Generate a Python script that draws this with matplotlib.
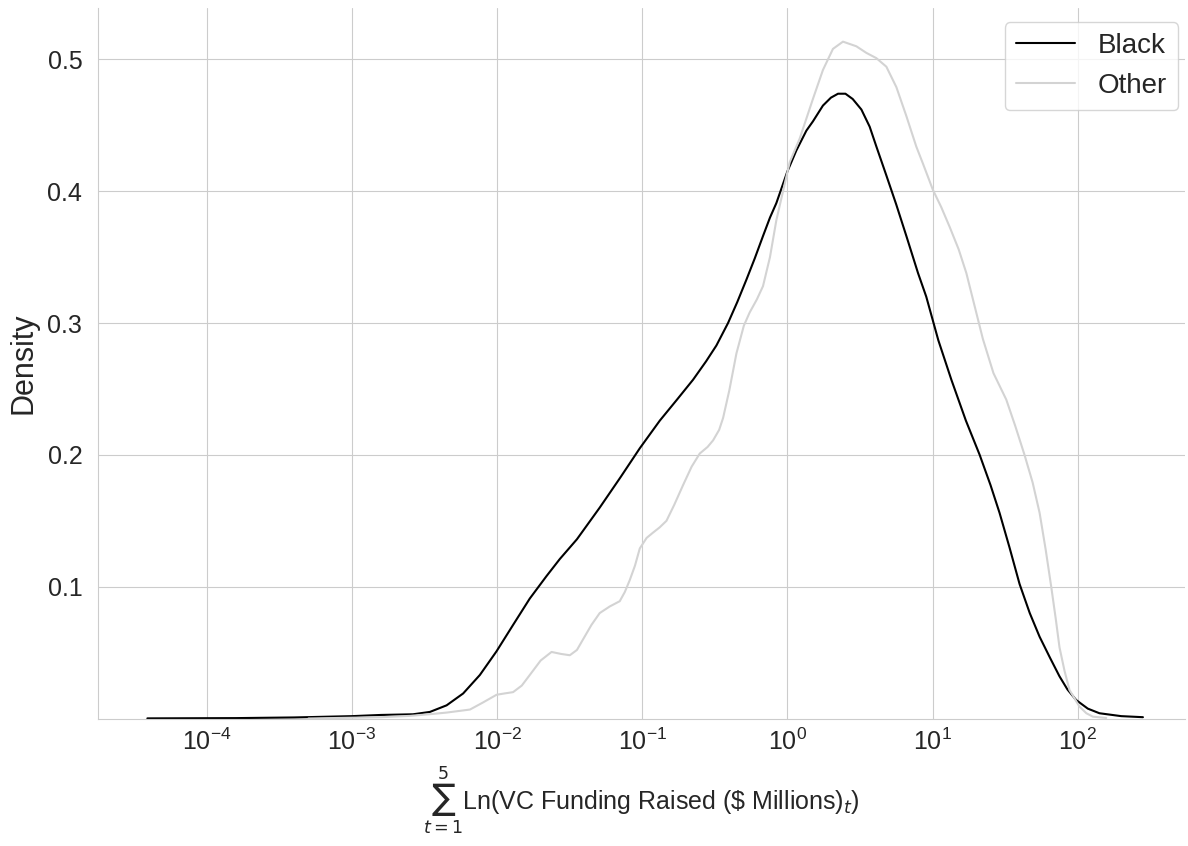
import numpy as np
import matplotlib
matplotlib.use('Agg')
import matplotlib.pyplot as plt
import seaborn as sns

# Densidades estimadas (KDE) do financiamento VC acumulado, eixo x em log10.

black_exp = [-4.41, -3.8, -3.4, -3.0, -2.80, -2.58, -2.463, -2.348, -2.234,
             -2.119, -2.004, -1.89, -1.775, -1.66, -1.568, -1.45, -1.293,
             -1.15, -1.017, -0.879, -0.760, -0.650, -0.560, -0.489, -0.409,
             -0.345, -0.282, -0.225, -0.168, -0.12, -0.076, 0.0, 0.062, 0.131,
             0.176, 0.245, 0.30, 0.349, 0.40, 0.450, 0.510, 0.567, 0.613,
             0.682, 0.750, 0.820, 0.90, 0.957, 1.04, 1.13, 1.23, 1.325, 1.40,
             1.462, 1.53, 1.60, 1.67, 1.738, 1.81, 1.875, 1.93, 1.99, 2.07,
             2.15, 2.3, 2.45]
black_density = [0.0001, 0.0003, 0.0008, 0.0018, 0.0027, 0.0032, 0.005, 0.010,
                 0.019, 0.033, 0.051, 0.071, 0.091, 0.108, 0.121, 0.136,
                 0.160, 0.183, 0.205, 0.226, 0.242, 0.257, 0.271, 0.283,
                 0.300, 0.316, 0.333, 0.349, 0.366, 0.380, 0.391, 0.415,
                 0.431, 0.446, 0.453, 0.465, 0.471, 0.474, 0.474, 0.470,
                 0.462, 0.449, 0.434, 0.412, 0.390, 0.366, 0.338, 0.320,
                 0.287, 0.257, 0.226, 0.200, 0.177, 0.156, 0.130, 0.102,
                 0.080, 0.062, 0.046, 0.032, 0.022, 0.014, 0.0075, 0.004,
                 0.0018, 0.001]

other_exp = [-3.3, -2.8, -2.6, -2.44, -2.348, -2.187, -2.10, -2.004, -1.95,
             -1.89, -1.83, -1.775, -1.70, -1.625, -1.56, -1.499, -1.45, -1.408,
             -1.35, -1.293, -1.224, -1.155, -1.12, -1.086, -1.05, -1.017,
             -0.97, -0.926, -0.88, -0.833, -0.78, -0.719, -0.66, -0.604,
             -0.55, -0.512, -0.47, -0.443, -0.40, -0.351, -0.30, -0.26, -0.21,
             -0.168, -0.12, -0.076, -0.03, 0.016, 0.085, 0.176, 0.245, 0.314,
             0.383, 0.475, 0.544, 0.613, 0.682, 0.751, 0.820, 0.888, 0.934,
             1.003, 1.06, 1.118, 1.18, 1.233, 1.29, 1.347, 1.42, 1.508, 1.57,
             1.634, 1.69, 1.738, 1.78, 1.818, 1.85, 1.875, 1.91, 1.944, 2.013,
             2.06, 2.105, 2.197]
other_density = [0.0, 0.001, 0.002, 0.0035, 0.0045, 0.0068, 0.012, 0.018,
                 0.019, 0.020, 0.025, 0.033, 0.044, 0.0505, 0.049, 0.048,
                 0.052, 0.060, 0.071, 0.080, 0.085, 0.089, 0.096, 0.105,
                 0.116, 0.129, 0.137, 0.141, 0.145, 0.150, 0.162, 0.177,
                 0.191, 0.201, 0.206, 0.211, 0.219, 0.228, 0.249, 0.277,
                 0.298, 0.308, 0.318, 0.328, 0.350, 0.378, 0.400, 0.422,
                 0.440, 0.470, 0.492, 0.508, 0.5135, 0.510, 0.505, 0.501,
                 0.4945, 0.479, 0.457, 0.434, 0.421, 0.401, 0.388, 0.373,
                 0.356, 0.338, 0.313, 0.288, 0.262, 0.242, 0.222, 0.200,
                 0.179, 0.156, 0.128, 0.100, 0.075, 0.054, 0.036, 0.0216,
                 0.009, 0.004, 0.0014, 0.0004]

y_ticks = [0.1, 0.2, 0.3, 0.4, 0.5]

# Estilo.

sns.set_style('whitegrid')
plt.rcParams['font.family'] = ['Liberation Sans', 'DejaVu Sans']
plt.rcParams['mathtext.fontset'] = 'dejavusans'

fig = plt.figure(figsize=(11.88, 8.46), dpi=100)
ax = fig.add_axes([0.0825, 0.1507, 0.915, 0.8398])

ax.plot(10 ** np.array(black_exp), black_density, color='black',
        linewidth=1.5, label='Black')
ax.plot(10 ** np.array(other_exp), other_density, color='lightgray',
        linewidth=1.5, label='Other')

ax.set_xscale('log')
ax.set_xlim(10 ** -4.75, 10 ** 2.74)
ax.set_ylim(0, 0.539)
ax.set_yticks(y_ticks)
ax.set_yticklabels([str(v) for v in y_ticks])

ax.tick_params(labelsize=18)
ax.tick_params(axis='y', pad=7.8)
ax.set_ylabel('Density', fontsize=22)
ax.yaxis.set_label_coords(-0.055, 0.5)
ax.set_xlabel(r'$\sum_{t=1}^{5}$Ln(VC Funding Raised (\$ Millions)$_t$)',
              fontsize=18, labelpad=7)
ax.legend(loc='upper right', fontsize=20, handlelength=2.15,
          borderaxespad=0, bbox_to_anchor=(0.9936, 0.9803))

sns.despine(ax=ax)

fig.savefig('out.png', dpi=100)
